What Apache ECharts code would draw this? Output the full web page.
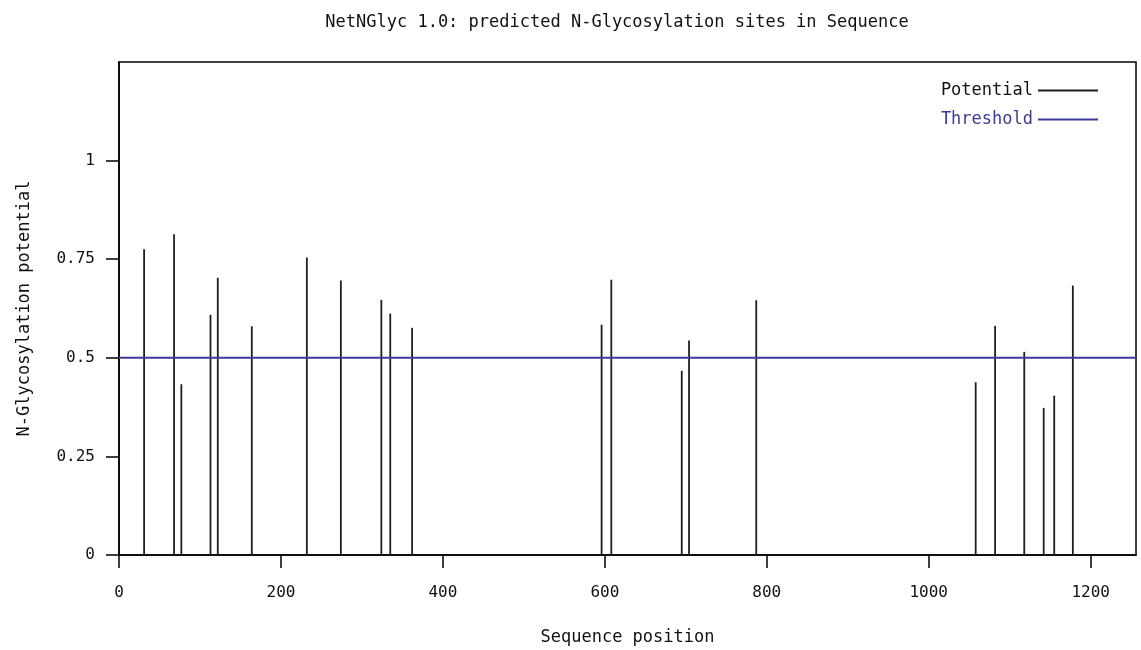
<!DOCTYPE html>
<html>
<head>
<meta charset="utf-8">
<script src="https://cdn.jsdelivr.net/npm/echarts@6/dist/echarts.min.js"></script>
<style>html,body{margin:0;padding:0;background:#fff;}#c{width:1141px;height:650px;}</style>
</head>
<body>
<div id="c"></div>
<script>
// Data
const sitePositions = [31, 68, 77, 113, 122, 164, 232, 274, 324, 335, 362, 596, 608, 695, 704, 787, 1058, 1082, 1118, 1142, 1155, 1178];
const sitePotentials = [0.775, 0.813, 0.433, 0.609, 0.703, 0.58, 0.754, 0.696, 0.647, 0.612, 0.576, 0.584, 0.698, 0.467, 0.544, 0.646, 0.438, 0.581, 0.515, 0.373, 0.404, 0.683];
const sequenceLength = 1256;
const thresholdValue = 0.5;
const yTickValues = [0, 0.25, 0.5, 0.75, 1];
const xTickLabels = [0, 200, 400, 600, 800, 1000, 1200];

const fontMono = '"DejaVu Sans Mono", "Liberation Mono", monospace';
const blue = '#3c3a9c';
const dark = '#1e1e1e';

const potentialData = sitePositions.map((p, i) => [p, sitePotentials[i]]);
const thresholdData = [[0, thresholdValue], [sequenceLength, thresholdValue]];

const chart = echarts.init(document.getElementById('c'), null, {renderer: 'canvas'});
chart.setOption({
  animation: false,
  backgroundColor: '#ffffff',
  title: {
    text: 'NetNGlyc 1.0: predicted N-Glycosylation sites in Sequence',
    left: 612, top: 9, textAlign: 'center',
    textStyle: {fontFamily: fontMono, fontSize: 17, fontWeight: 'normal', color: '#111'}
  },
  legend: {
    orient: 'vertical', right: 38, top: 77, align: 'right',
    itemWidth: 60, itemHeight: 2, itemGap: 12,
    textStyle: {fontFamily: fontMono, fontSize: 17},
    data: [
      {name: 'Potential', icon: 'rect', itemStyle: {color: dark}, textStyle: {color: '#111'}},
      {name: 'Threshold', icon: 'rect', itemStyle: {color: blue}, textStyle: {color: blue}}
    ]
  },
  grid: {left: 119, right: 5, top: 62, bottom: 95, outerBoundsMode: 'none', containLabel: false,
    show: true, borderColor: '#000', borderWidth: 1.5, backgroundColor: 'transparent'},
  xAxis: {
    type: 'value', min: 0, max: sequenceLength, interval: 200,
    name: 'Sequence position', nameLocation: 'middle', nameGap: 74,
    nameTextStyle: {fontFamily: fontMono, fontSize: 17, color: '#111'},
    axisLine: {show: true, onZero: false, lineStyle: {color: '#000', width: 1.5}},
    axisTick: {show: true, inside: false, length: 13, lineStyle: {color: '#000', width: 1.5}, customValues: xTickLabels},
    axisLabel: {fontFamily: fontMono, fontSize: 16, color: '#111', margin: 30, customValues: xTickLabels,
      formatter: v => String(v)},
    splitLine: {show: false}
  },
  yAxis: {
    type: 'value', min: 0, max: 1.25, interval: 0.25,
    name: 'N-Glycosylation potential', nameLocation: 'middle', nameGap: 86,
    nameTextStyle: {fontFamily: fontMono, fontSize: 17, color: '#111'},
    axisLine: {show: true, onZero: false, lineStyle: {color: '#000', width: 1.5}},
    axisTick: {show: true, inside: false, length: 13, lineStyle: {color: '#000', width: 1.5}, customValues: yTickValues},
    axisLabel: {fontFamily: fontMono, fontSize: 16, color: '#111', margin: 24, customValues: yTickValues,
      formatter: v => String(v)},
    splitLine: {show: false}
  },
  series: [
    {
      name: 'Potential', type: 'custom', color: dark,
      itemStyle: {color: dark},
      data: potentialData,
      renderItem: function (params, api) {
        const x = api.value(0), y = api.value(1);
        const p0 = api.coord([x, 0]);
        const p1 = api.coord([x, y]);
        return {type: 'line', shape: {x1: p0[0], y1: p0[1], x2: p1[0], y2: p1[1]},
          style: {stroke: dark, lineWidth: 1.8}};
      },
      z: 2
    },
    {
      name: 'Threshold', type: 'line', color: blue,
      data: thresholdData, symbol: 'none',
      lineStyle: {color: blue, width: 2},
      z: 3
    }
  ]
});
</script>
</body>
</html>
